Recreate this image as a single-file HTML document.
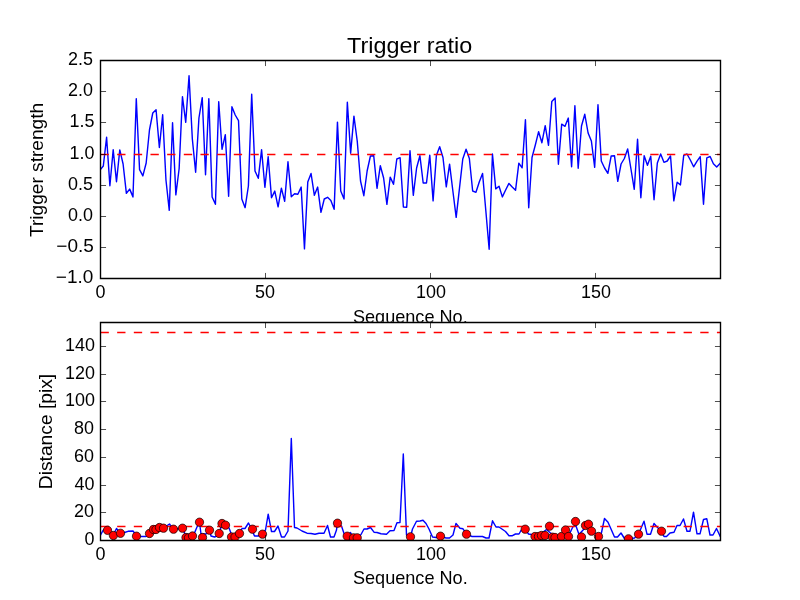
<!DOCTYPE html><html><head><meta charset="utf-8"><title>Trigger ratio</title><style>html,body{margin:0;padding:0;background:#fff;overflow:hidden}svg{display:block;will-change:transform}text{font-family:"Liberation Sans",sans-serif}</style></head><body>
<svg width="800" height="600" viewBox="0 0 800 600">
<rect x="0" y="0" width="800" height="600" fill="#fff"/>
<defs><clipPath id="c1"><rect x="100" y="60" width="620" height="218.18"/></clipPath>
<clipPath id="c2"><rect x="100" y="321.82" width="620" height="218.18"/></clipPath></defs>
<g clip-path="url(#c1)">
<path d="M100 170 L103.3 166 L106.6 137.3 L109.89 185.7 L113.19 149.7 L116.49 181.7 L119.79 149.9 L123.09 164 L126.38 193.3 L129.68 189.1 L132.98 196.9 L136.28 98.7 L139.57 169.6 L142.87 175.9 L146.17 163 L149.47 130 L152.77 113 L156.06 109.7 L159.36 147.5 L162.66 114.7 L165.96 180 L169.26 210.3 L172.55 122.7 L175.85 194.9 L179.15 168.5 L182.45 96.7 L185.74 122.3 L189.04 75.7 L192.34 139 L195.64 172.3 L198.94 118 L202.23 97.7 L205.53 174.8 L208.83 98.7 L212.13 197 L215.43 204.3 L218.72 101.7 L222.02 149.3 L225.32 134.7 L228.62 196.3 L231.91 106.7 L235.21 115 L238.51 120.6 L241.81 199 L245.11 207.7 L248.4 186 L251.7 94.3 L255 171 L258.3 178.3 L261.6 149.7 L264.89 187.3 L268.19 156.7 L271.49 197.7 L274.79 191.1 L278.09 206.9 L281.38 188.1 L284.68 201.3 L287.98 161.7 L291.28 196.7 L294.57 193.7 L297.87 194.3 L301.17 187.1 L304.47 248.9 L307.77 182 L311.06 173.5 L314.36 195.3 L317.66 187.1 L320.96 212.3 L324.26 199 L327.55 197.3 L330.85 200.4 L334.15 209.3 L337.45 122.1 L340.74 191 L344.04 198.9 L347.34 102.3 L350.64 153.3 L353.94 116.1 L357.23 141 L360.53 181 L363.83 195.7 L367.13 171 L370.43 156 L373.72 155.7 L377.02 188.3 L380.32 165.7 L383.62 178 L386.91 204.3 L390.21 177.1 L393.51 184.3 L396.81 159 L400.11 157.7 L403.4 207 L406.7 207.3 L410 150.7 L413.3 195.3 L416.6 168 L419.89 155.7 L423.19 183 L426.49 183 L429.79 155.2 L433.09 200.9 L436.38 155.5 L439.68 146.7 L442.98 157.5 L446.28 186.9 L449.57 164.2 L452.87 191 L456.17 217.3 L459.47 188.4 L462.77 159 L466.06 149.2 L469.36 158.5 L472.66 191 L475.96 192.3 L479.26 182 L482.55 173.4 L485.85 211 L489.15 249.3 L492.45 154 L495.74 188.9 L499.04 186.3 L502.34 196.9 L505.64 190 L508.94 183.4 L512.23 187 L515.53 190.3 L518.83 163.1 L522.13 167.8 L525.43 119.7 L528.72 207.7 L532.02 157.5 L535.32 145 L538.62 131.7 L541.91 142.7 L545.21 125.7 L548.51 145.3 L551.81 101.4 L555.11 98.1 L558.4 164.3 L561.7 124.1 L565 126.3 L568.3 118.1 L571.6 166.8 L574.89 105.7 L578.19 168.3 L581.49 126 L584.79 114.3 L588.09 133 L591.38 141 L594.68 167.3 L597.98 104.7 L601.28 161 L604.57 168 L607.87 173.3 L611.17 156 L614.47 155.7 L617.77 181.3 L621.06 164 L624.36 158.5 L627.66 148.9 L630.96 169 L634.26 189.3 L637.55 139.3 L640.85 197.7 L644.15 155.7 L647.45 165.3 L650.74 156.2 L654.04 199.7 L657.34 163 L660.64 154 L663.94 162.3 L667.23 161 L670.53 156 L673.83 200.9 L677.13 182.3 L680.43 184.9 L683.72 155.3 L687.02 154 L690.32 160 L693.62 166.8 L696.91 161.3 L700.21 156.7 L703.51 204.3 L706.81 157.8 L710.11 156.5 L713.4 163.8 L716.7 167.1 L720 163.5" fill="none" stroke="#0000ff" stroke-width="1.42" stroke-linejoin="round" stroke-linecap="square"/>
<path d="M100.5 154.5 H720.5" stroke="#ff0000" stroke-width="1.39" stroke-dasharray="8.33 8.33" fill="none"/>
</g>
<path d="M100.5 278.5 V272.94 M100.5 60.5 V66.06 M265.5 278.5 V272.94 M265.5 60.5 V66.06 M430.5 278.5 V272.94 M430.5 60.5 V66.06 M595.5 278.5 V272.94 M595.5 60.5 V66.06 M100.5 278.5 H106.06 M720.5 278.5 H714.94 M100.5 247.5 H106.06 M720.5 247.5 H714.94 M100.5 216.5 H106.06 M720.5 216.5 H714.94 M100.5 185.5 H106.06 M720.5 185.5 H714.94 M100.5 154.5 H106.06 M720.5 154.5 H714.94 M100.5 122.5 H106.06 M720.5 122.5 H714.94 M100.5 91.5 H106.06 M720.5 91.5 H714.94 M100.5 60.5 H106.06 M720.5 60.5 H714.94" stroke="#000" stroke-width="0.69" fill="none"/>
<path d="M100.5 60.5 H720.5 V278.5 H100.5 Z" fill="none" stroke="#000" stroke-width="1.39" stroke-linejoin="miter" stroke-linecap="square"/>
<text transform="matrix(1.0770 0 0 1.0830 95.375 298.000)" font-size="16.67" fill="#000">0</text>
<text transform="matrix(1.0770 0 0 1.0830 254.941 298.000)" font-size="16.67" fill="#000">50</text>
<text transform="matrix(1.0770 0 0 1.0830 415.923 298.000)" font-size="16.67" fill="#000">100</text>
<text transform="matrix(1.0770 0 0 1.0830 580.923 298.000)" font-size="16.67" fill="#000">150</text>
<text transform="matrix(1.1400 0 0 1.0830 55.839 283.000)" font-size="16.67" fill="#000">−1.0</text>
<text transform="matrix(1.1400 0 0 1.0830 56.339 252.000)" font-size="16.67" fill="#000">−0.5</text>
<text transform="matrix(1.0770 0 0 1.0830 67.955 221.000)" font-size="16.67" fill="#000">0.0</text>
<text transform="matrix(1.0770 0 0 1.0830 67.907 190.000)" font-size="16.67" fill="#000">0.5</text>
<text transform="matrix(1.0770 0 0 1.0830 69.500 159.000)" font-size="16.67" fill="#000">1.0</text>
<text transform="matrix(1.0770 0 0 1.0830 69.500 127.000)" font-size="16.67" fill="#000">1.5</text>
<text transform="matrix(1.0770 0 0 1.0830 67.955 96.000)" font-size="16.67" fill="#000">2.0</text>
<text transform="matrix(1.0770 0 0 1.0830 67.907 65.000)" font-size="16.67" fill="#000">2.5</text>
<text transform="matrix(1.1698 0 0 1.0737 347.000 53.038)" font-size="20" fill="#000">Trigger ratio</text>
<text transform="matrix(1.0874 0 0 1.1333 352.913 322.600)" font-size="16.67" fill="#000">Sequence No.</text>
<text transform="matrix(0 -1.1466 1.1404 0 42.523 237.000)" font-size="16.67" fill="#000">Trigger strength</text>
<rect x="100" y="321.82" width="620" height="218.18" fill="#fff"/>
<g clip-path="url(#c2)">
<path d="M100 536 L103.3 530 L106.6 530.5 L109.9 533 L113.2 535 L116.5 528.5 L119.8 533 L124.5 532.5 L128 531.3 L133 531 L133.75 532 L136.5 536.2 L141 536.5 L146 536.5 L149.5 533.5 L153.5 529.5 L156 529.5 L159.5 527.5 L163.5 528.2 L169.5 524 L173 529.5 L182.5 528.2 L185 534 L189 537.5 L193 536.5 L197 527 L199.5 522.2 L201 534 L206 534 L209.5 530.2 L211 536 L214.5 537 L217 536 L219.2 533.5 L222 523.5 L225.5 525.2 L229 528 L231.5 534.5 L235 536 L239.5 533.5 L242 528.5 L245 528.5 L248.5 523 L251.5 529 L254.5 536 L258 536 L262.5 534.2 L265.5 530 L268.2 514.2 L271.5 531.5 L274.5 531.5 L278 526 L281.5 537 L284.5 537 L288 531 L291.3 438.5 L294.5 527.5 L297 528 L302 531 L307 533.2 L311 533.5 L315 534.2 L319 533.2 L324 533.2 L327.5 525.5 L330.5 537 L334 537 L336.5 530 L337.5 523.2 L341.5 526 L344.5 535 L347.2 536.2 L350.5 532.5 L353.5 537.8 L357.2 537.8 L361 534.5 L364 529 L367 529 L370.5 527.5 L374 532.2 L377 532.5 L381 533.8 L386.5 534.2 L390 530.8 L394 530.5 L397 522.8 L400 522.5 L403.3 454 L406.5 535 L410.5 536.8 L412.5 529 L416.5 521.2 L420 521 L423 520.2 L426 523.5 L429 529 L432.5 537 L436 537.5 L440.5 536.2 L446 538 L449.5 538 L453 535 L456 523.5 L460 528.2 L463 528.8 L466.5 534.2 L472 536.5 L482.5 536.5 L486 538 L489 538 L492.5 520.8 L496 527 L499 527 L505.5 531.5 L509 535.8 L512 535.8 L515.5 534 L519 534 L521 530.5 L525.2 529.2 L528.5 534 L531.5 534.5 L538 536 L546.5 529.5 L550.5 533 L556 536 L562 535 L566 530 L569 535 L573 526.5 L576 526 L579 534.5 L584 529 L588.5 525 L592 531 L596.5 534 L601.3 533.5 L604.5 518.5 L608 522.2 L611 529 L614.5 537 L617.5 537 L621 533 L624.5 538.5 L628.5 538.8 L634.5 538 L638.5 534.2 L644 521.2 L647 534.2 L650.5 534.2 L654 523.5 L657 527 L661.5 531.2 L664 536.5 L666.5 536.5 L670 533 L674 532.2 L677 525.5 L680 525.5 L683.5 519 L687 531.2 L690 531.2 L693.5 512.2 L697 533.8 L700 533.8 L703.5 519.5 L706.8 518.8 L710 535 L713 535 L716.5 528.5 L720 536 L723 540" fill="none" stroke="#0000ff" stroke-width="1.42" stroke-linejoin="round" stroke-linecap="square"/>
<path d="M100.5 332.5 H720.5" stroke="#ff0000" stroke-width="1.39" stroke-dasharray="8.33 8.33" fill="none"/>
<path d="M100.5 526.5 H720.5" stroke="#ff0000" stroke-width="1.39" stroke-dasharray="8.33 8.33" fill="none"/>
</g>
<g clip-path="url(#c2)" fill="#ff0000" stroke="#000" stroke-width="0.69">
<circle cx="107.5" cy="530.3" r="4.17"/>
<circle cx="113.4" cy="535.5" r="4.17"/>
<circle cx="120.5" cy="533.3" r="4.17"/>
<circle cx="136.5" cy="536.2" r="4.17"/>
<circle cx="149.5" cy="533.5" r="4.17"/>
<circle cx="153.5" cy="529.5" r="4.17"/>
<circle cx="156" cy="529.5" r="4.17"/>
<circle cx="159.5" cy="527.5" r="4.17"/>
<circle cx="163.5" cy="528.2" r="4.17"/>
<circle cx="173.5" cy="529.2" r="4.17"/>
<circle cx="182.5" cy="528.2" r="4.17"/>
<circle cx="186" cy="537.5" r="4.17"/>
<circle cx="188.5" cy="537.8" r="4.17"/>
<circle cx="192.5" cy="536" r="4.17"/>
<circle cx="199.5" cy="522.2" r="4.17"/>
<circle cx="202.5" cy="537.5" r="4.17"/>
<circle cx="209.5" cy="530.2" r="4.17"/>
<circle cx="219.2" cy="533.5" r="4.17"/>
<circle cx="222" cy="523.5" r="4.17"/>
<circle cx="225.5" cy="525.2" r="4.17"/>
<circle cx="231.5" cy="537" r="4.17"/>
<circle cx="235" cy="537" r="4.17"/>
<circle cx="239.5" cy="533.5" r="4.17"/>
<circle cx="252.5" cy="529.2" r="4.17"/>
<circle cx="262.5" cy="534.2" r="4.17"/>
<circle cx="337.5" cy="523.2" r="4.17"/>
<circle cx="347.2" cy="536.2" r="4.17"/>
<circle cx="353.5" cy="537.8" r="4.17"/>
<circle cx="357.2" cy="537.8" r="4.17"/>
<circle cx="410.5" cy="536.8" r="4.17"/>
<circle cx="440.5" cy="536.2" r="4.17"/>
<circle cx="466.5" cy="534.2" r="4.17"/>
<circle cx="525.2" cy="529.2" r="4.17"/>
<circle cx="535" cy="536.5" r="4.17"/>
<circle cx="538.5" cy="536.5" r="4.17"/>
<circle cx="541.5" cy="535.5" r="4.17"/>
<circle cx="545" cy="535.5" r="4.17"/>
<circle cx="549.5" cy="526.2" r="4.17"/>
<circle cx="552.5" cy="537.2" r="4.17"/>
<circle cx="555" cy="537.5" r="4.17"/>
<circle cx="561.5" cy="536.5" r="4.17"/>
<circle cx="565.5" cy="530" r="4.17"/>
<circle cx="568.5" cy="536.5" r="4.17"/>
<circle cx="575.5" cy="521.5" r="4.17"/>
<circle cx="581.5" cy="537" r="4.17"/>
<circle cx="585.5" cy="525.5" r="4.17"/>
<circle cx="588.5" cy="524.2" r="4.17"/>
<circle cx="591.5" cy="531.2" r="4.17"/>
<circle cx="598.5" cy="536.5" r="4.17"/>
<circle cx="628.5" cy="538.8" r="4.17"/>
<circle cx="638.5" cy="534.2" r="4.17"/>
<circle cx="661.5" cy="531.2" r="4.17"/>
</g>
<path d="M100.5 540.5 V534.94 M100.5 322.5 V328.06 M265.5 540.5 V534.94 M265.5 322.5 V328.06 M430.5 540.5 V534.94 M430.5 322.5 V328.06 M595.5 540.5 V534.94 M595.5 322.5 V328.06 M100.5 540.5 H106.06 M720.5 540.5 H714.94 M100.5 512.5 H106.06 M720.5 512.5 H714.94 M100.5 485.5 H106.06 M720.5 485.5 H714.94 M100.5 457.5 H106.06 M720.5 457.5 H714.94 M100.5 429.5 H106.06 M720.5 429.5 H714.94 M100.5 401.5 H106.06 M720.5 401.5 H714.94 M100.5 374.5 H106.06 M720.5 374.5 H714.94 M100.5 346.5 H106.06 M720.5 346.5 H714.94" stroke="#000" stroke-width="0.69" fill="none"/>
<path d="M100.5 322.5 H720.5 V540.5 H100.5 Z" fill="none" stroke="#000" stroke-width="1.39" stroke-linejoin="miter" stroke-linecap="square"/>
<text transform="matrix(1.0770 0 0 1.0830 95.375 560.000)" font-size="16.67" fill="#000">0</text>
<text transform="matrix(1.0770 0 0 1.0830 254.941 560.000)" font-size="16.67" fill="#000">50</text>
<text transform="matrix(1.0770 0 0 1.0830 415.923 560.000)" font-size="16.67" fill="#000">100</text>
<text transform="matrix(1.0770 0 0 1.0830 580.923 560.000)" font-size="16.67" fill="#000">150</text>
<text transform="matrix(1.0770 0 0 1.0830 84.375 545.000)" font-size="16.67" fill="#000">0</text>
<text transform="matrix(1.0770 0 0 1.0830 73.941 517.000)" font-size="16.67" fill="#000">20</text>
<text transform="matrix(1.0770 0 0 1.0830 74.500 490.000)" font-size="16.67" fill="#000">40</text>
<text transform="matrix(1.0770 0 0 1.0830 73.941 462.000)" font-size="16.67" fill="#000">60</text>
<text transform="matrix(1.0770 0 0 1.0830 73.941 434.000)" font-size="16.67" fill="#000">80</text>
<text transform="matrix(1.0770 0 0 1.0830 64.923 406.000)" font-size="16.67" fill="#000">100</text>
<text transform="matrix(1.0770 0 0 1.0830 64.923 379.000)" font-size="16.67" fill="#000">120</text>
<text transform="matrix(1.0770 0 0 1.0830 64.923 351.000)" font-size="16.67" fill="#000">140</text>
<text transform="matrix(1.0874 0 0 1.1333 352.913 583.600)" font-size="16.67" fill="#000">Sequence No.</text>
<text transform="matrix(0 -1.1531 1.1404 0 51.523 489.153)" font-size="16.67" fill="#000">Distance [pix]</text>
</svg></body></html>
